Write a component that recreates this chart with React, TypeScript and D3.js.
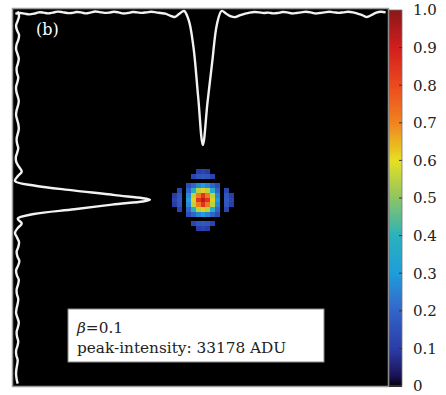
import React from 'react';
import * as d3 from 'd3';

// detector grid (N x N pixels), spot centred on pixel 40
const N = 80;
const CENTER = 40;

// spot intensities around the centre, offsets -6..6 (rows = y, cols = x)
const spotOffsets = d3.range(-6, 7);
const spotRows: number[][] = [
  [0, 0, 0, 0, 0, 0.1, 0.12, 0.1, 0, 0, 0, 0, 0],
  [0, 0, 0, 0, 0.12, 0.16, 0.17, 0.16, 0.12, 0, 0, 0, 0],
  [0, 0, 0, 0, 0, 0, 0, 0, 0, 0, 0, 0, 0],
  [0, 0, 0, 0.14, 0.2, 0.26, 0.3, 0.26, 0.2, 0.14, 0, 0, 0],
  [0, 0.12, 0, 0.2, 0.38, 0.55, 0.62, 0.55, 0.38, 0.2, 0, 0.12, 0],
  [0.1, 0.16, 0, 0.26, 0.55, 0.72, 0.85, 0.72, 0.55, 0.26, 0, 0.16, 0.1],
  [0.12, 0.17, 0, 0.3, 0.62, 0.85, 0.93, 0.85, 0.62, 0.3, 0, 0.17, 0.12],
  [0.1, 0.16, 0, 0.26, 0.55, 0.72, 0.85, 0.72, 0.55, 0.26, 0, 0.16, 0.1],
  [0, 0.12, 0, 0.2, 0.38, 0.55, 0.62, 0.55, 0.38, 0.2, 0, 0.12, 0],
  [0, 0, 0, 0.14, 0.2, 0.26, 0.3, 0.26, 0.2, 0.14, 0, 0, 0],
  [0, 0, 0, 0, 0, 0, 0, 0, 0, 0, 0, 0, 0],
  [0, 0, 0, 0, 0.12, 0.16, 0.17, 0.16, 0.12, 0, 0, 0, 0],
  [0, 0, 0, 0, 0, 0.1, 0.12, 0.1, 0, 0, 0, 0, 0],
];

// colour map (black floor, jet-like ramp)
const colorDomain = [0, 0.03, 0.1, 0.2, 0.25, 0.3, 0.4, 0.5, 0.6, 0.7, 0.8, 0.9, 1.0];
const colorRange = ['#000000', '#1c1458', '#2b3ca8', '#3264c8', '#2c80d2', '#1e9cdc', '#2ab2bc',
  '#8cc464', '#e6e020', '#f08420', '#ec4a1e', '#d21e1e', '#8a1818'];

const cbTicks = [0, 0.1, 0.2, 0.3, 0.4, 0.5, 0.6, 0.7, 0.8, 0.9, 1.0];
const cbLabels = ['0', '0.1', '0.2', '0.3', '0.4', '0.5', '0.6', '0.7', '0.8', '0.9', '1.0'];

// horizontal cut (per column), drawn hanging from the top edge
const topProfile = [
  0.02, 0.015, 0.02, 0.025, 0.02, 0.01, 0.012, 0.018, 0.012, 0.005,
  0.008, 0.015, 0.015, 0.008, 0.01, 0.018, 0.012, 0.004, 0.008, 0.014,
  0.012, 0.006, 0.01, 0.018, 0.015, 0.008, 0.01, 0.014, 0.01, 0.006,
  0.01, 0.015, 0.02, 0.035, 0.045, 0.02, 0.0, 0.07, 0.27, 0.64,
  1.0, 0.68, 0.38, 0.1, 0.0, 0.02, 0.04, 0.045, 0.03, 0.02,
  0.012, 0.008, 0.01, 0.015, 0.012, 0.018, 0.015, 0.008, 0.01, 0.018,
  0.015, 0.01, 0.006, 0.01, 0.018, 0.015, 0.01, 0.006, 0.01, 0.014,
  0.01, 0.006, 0.01, 0.02, 0.03, 0.045, 0.03, 0.012, 0.006, 0.01,
];

// vertical cut (per row), drawn from the left edge
const leftProfile = [
  0.02, 0.03, 0.02, 0.008, 0.015, 0.03, 0.025, 0.012, 0.008, 0.018,
  0.028, 0.022, 0.012, 0.014, 0.024, 0.018, 0.008, 0.01, 0.02, 0.028,
  0.022, 0.012, 0.008, 0.016, 0.025, 0.028, 0.02, 0.012, 0.015, 0.024,
  0.016, 0.006, 0.01, 0.03, 0.05, 0.02, 0.0, 0.15, 0.43, 0.74,
  1.0, 0.72, 0.44, 0.14, 0.02, 0.05, 0.02, 0.0, 0.015, 0.03,
  0.024, 0.012, 0.018, 0.032, 0.022, 0.008, 0.014, 0.028, 0.022, 0.012,
  0.014, 0.024, 0.02, 0.012, 0.008, 0.018, 0.028, 0.022, 0.012, 0.015,
  0.024, 0.018, 0.008, 0.01, 0.02, 0.016, 0.01, 0.008, 0.012, 0.02,
];

const panelLabel = '(b)';
const betaText = '=0.1';
const peakText = 'peak-intensity: 33178 ADU';

const FONT = '"DejaVu Serif", serif';

export default function App() {
  const W = 446, H = 395;
  const left = 13, top = 9, right = 388, bottom = 386;

  const x = d3.scaleBand<number>().domain(d3.range(N)).range([left, right]);
  const y = d3.scaleBand<number>().domain(d3.range(N)).range([top, bottom]);
  const bw = x.bandwidth(), bh = y.bandwidth();

  const color = d3.scaleLinear<string>().domain(colorDomain).range(colorRange).clamp(true);

  const cells: { c: number; r: number; v: number }[] = [];
  spotRows.forEach((row, ri) =>
    row.forEach((v, ci) => {
      if (v > 0) cells.push({ c: CENTER + spotOffsets[ci], r: CENTER + spotOffsets[ri], v });
    })
  );

  const yTop = d3.scaleLinear().domain([0, 1]).range([11, 145]);
  const xLeft = d3.scaleLinear().domain([0, 1]).range([15, 150]);
  const topLine = d3.line<number>()
    .x((_, i) => (x(i) as number) + bw / 2).y((v) => yTop(v))
    .curve(d3.curveCatmullRom.alpha(0.5));
  const leftLine = d3.line<number>()
    .x((v) => xLeft(v)).y((_, i) => (y(i) as number) + bh / 2)
    .curve(d3.curveCatmullRom.alpha(0.5));

  const cbX = 389, cbW = 13;
  const cbY = d3.scaleLinear().domain([0, 1]).range([386, 10]);
  const steps = d3.range(0, 1, 0.005);

  return (
    <svg width={W} height={H} style={{ position: 'absolute', left: 0, top: 0, background: '#fff' }}>
      <rect x={left} y={top} width={right - left} height={bottom - top} fill="#000" />
      <g shapeRendering="crispEdges">
        {cells.map((d, i) => (
          <rect key={i} x={x(d.c)} y={y(d.r)} width={bw + 0.4} height={bh + 0.4} fill={color(d.v)} />
        ))}
      </g>
      <rect x={left - 0.5} y={top - 0.5} width={right - left + 1} height={bottom - top + 1}
        fill="none" stroke="#9a9a9a" strokeWidth={1.5} />

      <path d={topLine(topProfile) || ''} fill="none" stroke="#f2f2f2" strokeWidth={2.4} strokeLinejoin="round" />
      <path d={leftLine(leftProfile) || ''} fill="none" stroke="#f2f2f2" strokeWidth={2.4} strokeLinejoin="round" />

      <text x={36} y={35} fill="#fff" fontFamily={FONT} fontSize={16}>{panelLabel}</text>

      <rect x={68} y={309} width={256} height={53} fill="#fff" stroke="#888" strokeWidth={1} />
      <text x={77} y={333} fontFamily={FONT} fontSize={15.3} fill="#222">
        <tspan fontStyle="italic">β</tspan>{betaText}
      </text>
      <text x={77} y={353} fontFamily={FONT} fontSize={15.3} fill="#222">{peakText}</text>

      <g shapeRendering="crispEdges">
        {steps.map((s) => (
          <rect key={s} x={cbX} y={cbY(s + 0.005)} width={cbW} height={cbY(s) - cbY(s + 0.005) + 0.5} fill={color(s + 0.0025)} />
        ))}
      </g>
      <rect x={cbX} y={cbY(1)} width={cbW} height={cbY(0) - cbY(1)} fill="none" stroke="#777" strokeWidth={0.8} />
      {cbTicks.map((t, i) => (
        <g key={t}>
          {t > 0 && t < 1 && <line x1={cbX + cbW - 3} x2={cbX + cbW} y1={cbY(t)} y2={cbY(t)} stroke="#333" strokeWidth={1} />}
          <text x={413} y={cbY(t)} dy="0.36em" fontFamily={FONT} fontSize={15} fill="#222">{cbLabels[i]}</text>
        </g>
      ))}
    </svg>
  );
}
